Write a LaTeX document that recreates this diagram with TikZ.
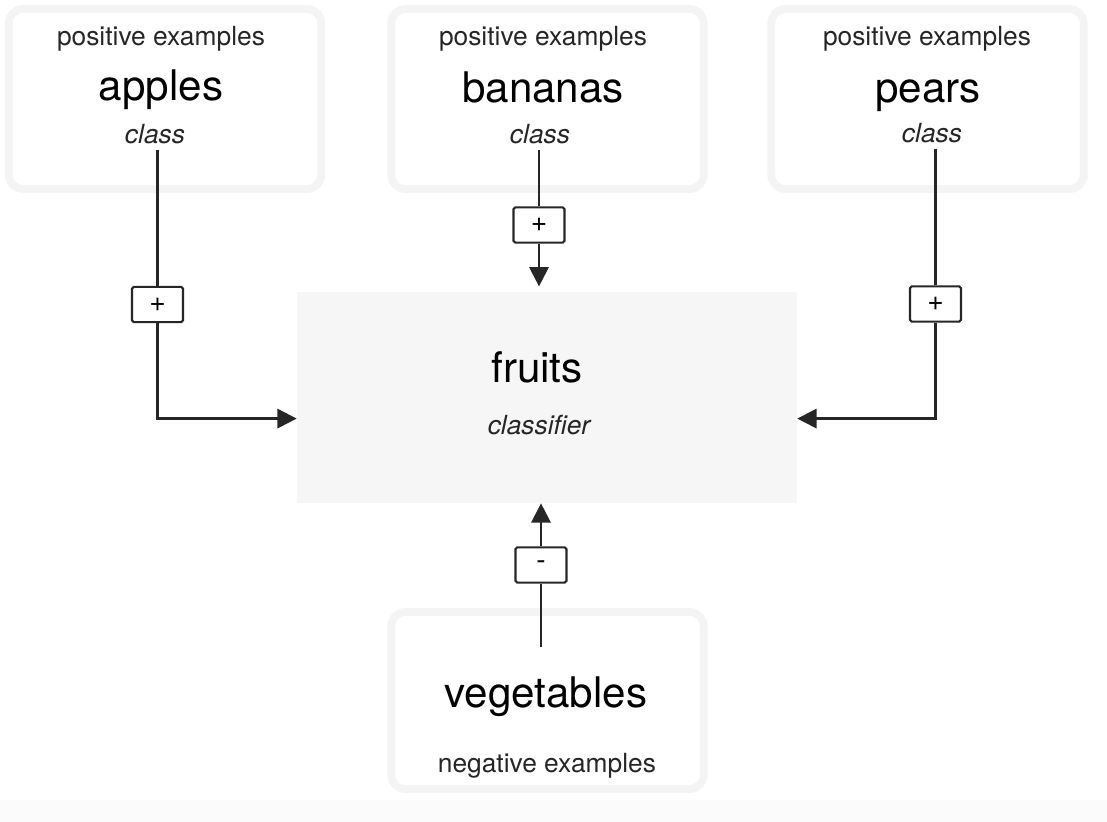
\documentclass[tikz,border=0pt]{standalone}
\usepackage{fontspec}
\setmainfont{TeX Gyre Heros}
\usetikzlibrary{arrows.meta,positioning}
\definecolor{boxline}{HTML}{F4F4F4}
\definecolor{clsfill}{HTML}{F6F6F6}
\definecolor{wire}{HTML}{262626}

\begin{document}
\begin{tikzpicture}[x=0.02cm,y=-0.02cm,
   examples/.style={rectangle,draw=boxline,line width=4.5pt,rounded corners=8pt,
      fill=white,minimum width=6.25cm,minimum height=3.6cm,inner sep=0pt},
   small/.style={font=\fontsize{15}{18}\selectfont,text=black!85,anchor=base},
   big/.style={font=\fontsize{24}{28}\selectfont,anchor=base},
   note/.style={font=\fontsize{15}{18}\selectfont\itshape,text=black!85,anchor=base},
   sign/.style={rectangle,draw=wire,line width=1.2pt,rounded corners=1pt,fill=white,
      minimum width=29pt,minimum height=20pt,inner sep=0pt,font=\fontsize{16}{18}\selectfont},
   wire/.style={draw=wire,line width=1.3pt},
   feed/.style={wire,-{Triangle[length=11pt,width=11pt]}}]
   \useasboundingbox (0,0) rectangle (1107,822);
   \fill[black!1.5] (0,800) rectangle (1107,822);

   \node[examples] (box_a) at (165,99) {};
   \node[examples] (box_b) at (547.5,99) {};
   \node[examples] (box_p) at (927.5,99) {};
   \node[examples,minimum height=3.54cm] (box_v) at (547.5,700.5) {};
   \node[rectangle,fill=clsfill,minimum width=10cm,minimum height=4.22cm] (fruits) at (547,397.5) {};

   \node[small] (pos_a) at (161,45) {positive examples};
   \node[big] (apples) at (161,100) {apples};
   \node[note] (cls_a) at (155,143) {class};
   \node[small] (pos_b) at (543,45) {positive examples};
   \node[big] (bananas) at (543,102) {bananas};
   \node[note] (cls_b) at (540,143) {class};
   \node[small] (pos_p) at (927,45) {positive examples};
   \node[big] (pears) at (928,102) {pears};
   \node[note] (cls_p) at (932,142) {class};

   \node[big] (fruits_t) at (537,382) {fruits};
   \node[note] (clsf) at (539,434) {classifier};

   \node[big] (vegetables) at (546,707) {vegetables};
   \node[small] (neg_v) at (547,772) {negative examples};

   \node[sign] (s_a) at (157.5,304.5) {+};
   \node[sign] (s_b) at (539,225) {+};
   \node[sign] (s_p) at (935.5,304) {+};
   \node[sign] (s_v) at (541,565) {-};
   \coordinate (v_in) at (541,647);

   \draw[wire] (s_a |- cls_a.south) -- (s_a);
   \draw[wire] (s_b |- cls_b.south) -- (s_b);
   \draw[wire] (s_p |- cls_p.south) -- (s_p);
   \draw[wire] (v_in) -- (s_v);
   \draw[feed] (s_a) |- ([yshift=-12pt]fruits.west);
   \draw[feed] (s_p) |- ([yshift=-12pt]fruits.east);
   \draw[feed,shorten >=3pt] (s_b) -- (s_b |- fruits.north);
   \draw[feed] (s_v) -- (s_v |- fruits.south);
\end{tikzpicture}
\end{document}
